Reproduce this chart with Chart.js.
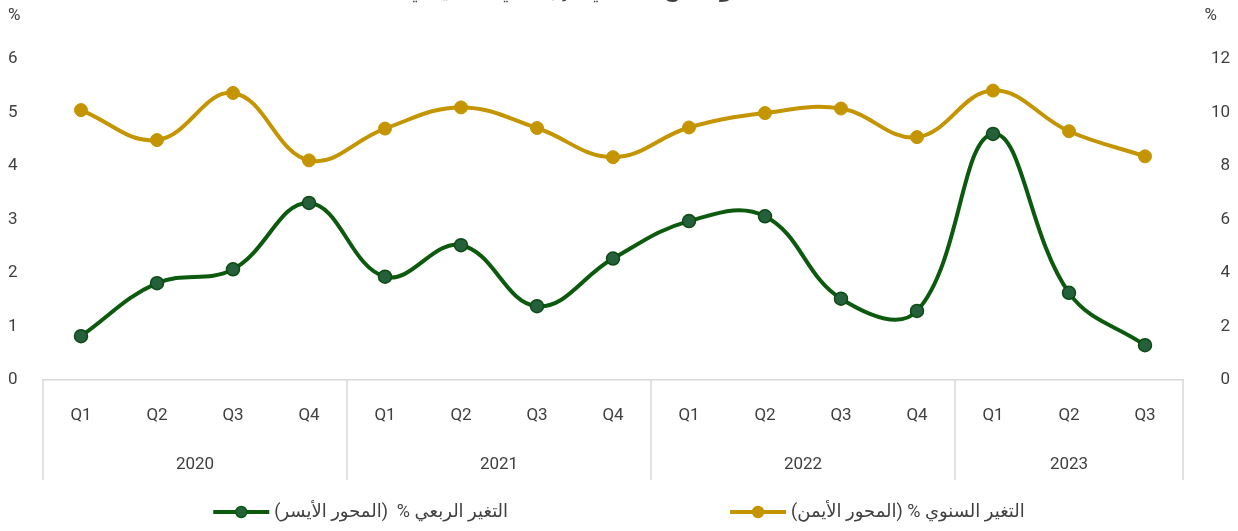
<!DOCTYPE html>
<html>
<head>
<meta charset="utf-8">
<script src="https://cdn.jsdelivr.net/npm/chart.js@4.4.1/dist/chart.umd.min.js"></script>
<style>
  html, body { margin: 0; padding: 0; background: #fff; }
  #wrap { width: 1238px; height: 531px; }
</style>
</head>
<body>
<div id="wrap"><canvas id="growthChart" width="1238" height="531"></canvas></div>
<script>
// Donnees
const quarters = ['Q1','Q2','Q3','Q4','Q1','Q2','Q3','Q4','Q1','Q2','Q3','Q4','Q1','Q2','Q3'];
const years = ['2020','2021','2022','2023'];
const quartersPerYear = [4, 4, 4, 3];
const quarterlyChange = [0.82, 1.81, 2.07, 3.31, 1.93, 2.52, 1.38, 2.27, 2.97, 3.06, 1.52, 1.29, 4.60, 1.63, 0.65];
const annualChange = [10.09, 8.97, 10.73, 8.21, 9.40, 10.19, 9.42, 8.33, 9.44, 9.98, 10.15, 9.08, 10.82, 9.30, 8.36];
const leftTicks = [0, 1, 2, 3, 4, 5, 6];
const rightTicks = [0, 2, 4, 6, 8, 10, 12];

const labelQuarterly = 'التغير الربعي %  (المحور الأيسر)';
const labelAnnual = 'التغير السنوي % (المحور الأيمن)';
const chartTitle = 'نمو الناتج المحلي الإجمالي الحقيقي';

const FONT = 'Roboto, "DejaVu Sans", sans-serif';
const TXT = '#404040';
const GREEN = '#0b5a0e';
const GREEN_PT = '#24603a';
const GOLD = '#c49500';
const GRID = '#d9d9d9';

// Annotations: annees, separateurs, %, titre, legende
const extras = {
    id: 'extras',
    afterDraw(chart) {
        const ctx = chart.ctx;
        const x = chart.scales.x;
        const top = chart.chartArea.bottom;
        const step = x.getPixelForValue(1) - x.getPixelForValue(0);
        ctx.save();
        ctx.strokeStyle = GRID;
        ctx.lineWidth = 1.5;
        let idx = 0;
        const edges = [x.getPixelForValue(0) - step / 2];
        years.forEach((y, i) => {
            const start = idx;
            idx += quartersPerYear[i];
            const edge = x.getPixelForValue(idx - 1) + step / 2;
            edges.push(edge);
            const cx = (x.getPixelForValue(start) + x.getPixelForValue(idx - 1)) / 2;
            ctx.fillStyle = TXT;
            ctx.font = '17px ' + FONT;
            ctx.textAlign = 'center';
            ctx.textBaseline = 'middle';
            ctx.fillText(y, cx, top + 85);
        });
        edges.forEach(e => {
            ctx.beginPath();
            ctx.moveTo(e, top);
            ctx.lineTo(e, top + 100);
            ctx.stroke();
        });

        // % au-dessus des axes
        ctx.fillStyle = TXT;
        ctx.font = '17px ' + FONT;
        ctx.textBaseline = 'middle';
        ctx.textAlign = 'left';
        ctx.fillText('%', chart.scales.yLeft.left, 16);
        ctx.textAlign = 'right';
        ctx.fillText('%', chart.scales.yRight.right - 13, 16);

        // titre (coupe en haut)
        ctx.font = 'bold 20px ' + FONT;
        ctx.textAlign = 'center';
        ctx.textBaseline = 'alphabetic';
        ctx.fillText(chartTitle, 580, -3);

        // legende
        const items = [
            {text: labelQuarterly, color: GREEN, pt: GREEN_PT},
            {text: labelAnnual, color: GOLD, pt: GOLD}
        ];
        ctx.font = '18px ' + FONT;
        const symW = 56, gap = 5, spacing = 222;
        const widths = items.map(it => symW + gap + ctx.measureText(it.text).width);
        let lx = (chart.width - (widths[0] + spacing + widths[1])) / 2;
        const ly = 512;
        items.forEach((it, i) => {
            ctx.strokeStyle = it.color;
            ctx.lineWidth = 4;
            ctx.beginPath();
            ctx.moveTo(lx, ly);
            ctx.lineTo(lx + symW, ly);
            ctx.stroke();
            ctx.beginPath();
            ctx.arc(lx + symW / 2, ly, 5.5, 0, Math.PI * 2);
            ctx.fillStyle = it.pt;
            ctx.fill();
            ctx.lineWidth = 1.5;
            ctx.stroke();
            ctx.fillStyle = TXT;
            ctx.textAlign = 'left';
            ctx.textBaseline = 'middle';
            ctx.fillText(it.text, lx + symW + gap, ly);
            lx += widths[i] + spacing;
        });
        ctx.restore();
    }
};

const ctx = document.getElementById('growthChart').getContext('2d');
new Chart(ctx, {
    type: 'line',
    data: {
        labels: quarters,
        datasets: [
            {
                label: labelAnnual,
                data: annualChange,
                yAxisID: 'yRight',
                borderColor: GOLD,
                backgroundColor: GOLD,
                borderWidth: 4,
                tension: 0.4,
                pointRadius: 6.5,
                pointBackgroundColor: GOLD,
                pointBorderColor: GOLD,
                pointBorderWidth: 1
            },
            {
                label: labelQuarterly,
                data: quarterlyChange,
                yAxisID: 'yLeft',
                borderColor: GREEN,
                backgroundColor: GREEN_PT,
                borderWidth: 4,
                tension: 0.4,
                pointRadius: 6.5,
                pointBackgroundColor: GREEN_PT,
                pointBorderColor: '#0d4a14',
                pointBorderWidth: 1.5
            }
        ]
    },
    options: {
        responsive: false,
        animation: false,
        layout: { padding: { top: 59, left: 8, right: 8, bottom: 51 } },
        plugins: { legend: { display: false }, title: { display: false }, tooltip: { enabled: false } },
        scales: {
            x: {
                offset: true,
                grid: { display: false, drawTicks: false },
                border: { display: true, color: GRID, width: 1.5 },
                ticks: { color: TXT, font: { family: FONT, size: 17 }, padding: 26, autoSkip: false, maxRotation: 0 },
                afterFit: s => { s.height = 100; }
            },
            yLeft: {
                position: 'left',
                min: leftTicks[0],
                max: leftTicks[leftTicks.length - 1],
                afterBuildTicks: s => { s.ticks = leftTicks.map(v => ({value: v})); },
                grid: { display: false },
                border: { display: false },
                ticks: { color: TXT, font: { family: FONT, size: 17 }, crossAlign: 'far', padding: 0 },
                afterFit: s => { s.width = 35; }
            },
            yRight: {
                position: 'right',
                min: rightTicks[0],
                max: rightTicks[rightTicks.length - 1],
                afterBuildTicks: s => { s.ticks = rightTicks.map(v => ({value: v})); },
                grid: { display: false },
                border: { display: false },
                ticks: { color: TXT, font: { family: FONT, size: 17 }, crossAlign: 'far', padding: 0 },
                afterFit: s => { s.width = 47; }
            }
        }
    },
    plugins: [extras]
});
</script>
</body>
</html>
